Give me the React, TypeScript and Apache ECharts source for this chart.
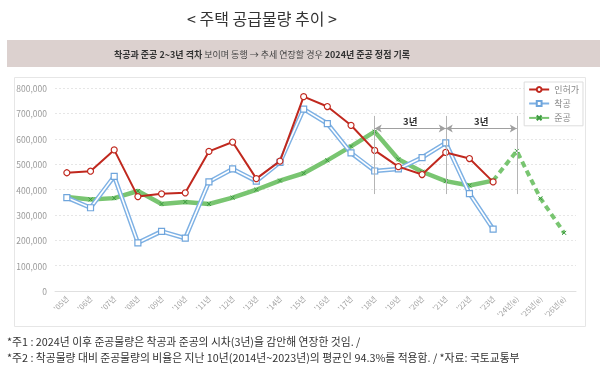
import React, { useEffect, useRef } from "react";
import * as echarts from "echarts";

const categories = [
  "'05년", "'06년", "'07년", "'08년", "'09년", "'10년", "'11년", "'12년", "'13년", "'14년",
  "'15년", "'16년", "'17년", "'18년", "'19년", "'20년", "'21년", "'22년", "'23년",
  "'24년(e)", "'25년(e)", "'26년(e)",
];
const permits = [
  466000, 472000, 556000, 372000, 383000, 387000, 550000, 587000, 443000, 512000,
  766000, 727000, 653000, 554000, 490000, 459000, 546000, 522000, 430000, null, null, null,
];
const starts = [
  368000, 328000, 452000, 190000, 235000, 208000, 430000, 481000, 433000, 507000,
  717000, 660000, 544000, 473000, 481000, 526000, 584000, 384000, 244000, null, null, null,
];
const completions = [
  370000, 361000, 366000, 394000, 343000, 351000, 343000, 368000, 399000, 435000,
  464000, 515000, 570000, 628000, 519000, 470000, 433000, 416000, 435000, null, null, null,
];
const forecast = [
  null, null, null, null, null, null, null, null, null, null,
  null, null, null, null, null, null, null, null, 435000, 552000, 365000, 229000,
];
const seriesNames = ["인허가", "착공", "준공"];
const gapLabel = "3년";

const KR = "'Noto Sans CJK KR', 'Noto Sans', sans-serif";
const X_MARK = "path://M0,0L10,10M10,0L0,10";

export default function App() {
  const ref = useRef<HTMLDivElement>(null);
  useEffect(() => {
    if (!ref.current) return;
    const chart = echarts.init(ref.current, undefined, { renderer: "svg" });
    const green = "rgba(88,182,78,0.8)";
    chart.setOption({
      animation: false,
      textStyle: { fontFamily: KR },
      graphic: [
        { type: "rect", z: -20, shape: { x: 7, y: 40, width: 593, height: 27 }, style: { fill: "#dcd1cf" } },
        { type: "rect", z: -20, shape: { x: 14.5, y: 77.5, width: 571, height: 249 }, style: { fill: "#fff", stroke: "#e6e6e6", lineWidth: 1 } },
        {
          type: "text", x: 262, y: 18,
          style: { text: "< 주택 공급물량 추이 >", fontSize: 16, fontFamily: KR, fill: "#333", align: "center", verticalAlign: "middle" },
        },
        {
          type: "text", x: 262, y: 54,
          style: {
            text: "{b|착공과 준공 2~3년 격차} 보이며 동행 → 추세 연장할 경우 {b|2024년 준공 정점 기록}",
            fontSize: 9, fontFamily: KR, fill: "#444", align: "center", verticalAlign: "middle",
            rich: { b: { fontWeight: "bold", fontSize: 9, fontFamily: KR, fill: "#333" } },
          },
        },
        {
          type: "text", x: 7, y: 341,
          style: { text: "*주1 : 2024년 이후 준공물량은 착공과 준공의 시차(3년)을 감안해 연장한 것임. /", fontSize: 10.8, fontFamily: KR, fill: "#333", verticalAlign: "middle" },
        },
        {
          type: "text", x: 7, y: 357,
          style: { text: "*주2 : 착공물량 대비 준공물량의 비율은 지난 10년(2014년~2023년)의 평균인 94.3%를 적용함. / *자료: 국토교통부", fontSize: 10.8, fontFamily: KR, fill: "#333", verticalAlign: "middle" },
        },
      ],
      legend: {
        data: seriesNames,
        orient: "vertical",
        right: 17,
        top: 82,
        backgroundColor: "#fff",
        borderColor: "#ddd",
        borderWidth: 1,
        padding: [3, 4, 3, 4],
        itemGap: 5,
        itemWidth: 20,
        itemHeight: 6,
        textStyle: { fontSize: 9, color: "#888", fontFamily: KR },
      },
      grid: { left: 55, right: 24, top: 88, bottom: 82 },
      xAxis: {
        type: "category",
        data: categories,
        boundaryGap: true,
        axisLine: { lineStyle: { color: "#e0e0e0" } },
        axisTick: { show: false },
        axisLabel: { rotate: 45, fontSize: 7.5, color: "#a0a0a0", margin: 6, interval: 0 },
      },
      yAxis: {
        type: "value",
        min: 0,
        max: 800000,
        interval: 100000,
        axisLine: { show: false },
        axisTick: { show: false },
        splitLine: { lineStyle: { color: "#e6e6e6", type: [2, 2] } },
        axisLabel: {
          fontSize: 8.5, color: "#9a9a9a", margin: 8,
          formatter: (v: number) => v.toLocaleString("en-US"),
        },
      },
      series: [
        {
          name: "준공",
          type: "line",
          data: completions,
          z: 2,
          lineStyle: { color: green, width: 4.5 },
          itemStyle: { color: "none", borderColor: "#3c9a40", borderWidth: 1 },
          symbol: X_MARK,
          symbolSize: 4,
          showSymbol: true,
        },
        {
          name: "준공e",
          type: "line",
          data: forecast,
          z: 2,
          lineStyle: { color: green, width: 4, type: [6, 4] },
          itemStyle: { color: "none", borderColor: "#3c9a40", borderWidth: 1 },
          symbol: X_MARK,
          symbolSize: 4,
          markLine: {
            silent: true,
            symbol: "none",
            label: { show: false },
            lineStyle: { color: "#b5b5b5", width: 1, type: "solid" },
            data: [
              [{ coord: ["'18년", 690000] }, { coord: ["'18년", 382000] }],
              [{ coord: ["'21년", 690000] }, { coord: ["'21년", 382000] }],
              [{ coord: ["'24년(e)", 690000] }, { coord: ["'24년(e)", 382000] }],
            ],
          },
        },
        {
          name: "착공",
          type: "line",
          data: starts,
          z: 3,
          lineStyle: { color: "#7eb1e4", width: 4.5 },
          itemStyle: { color: "#fff", borderColor: "#6fa5dc", borderWidth: 1.2 },
          symbol: "rect",
          symbolSize: 6,
        },
        {
          name: "착공inner",
          type: "line",
          data: starts,
          z: 3,
          silent: true,
          lineStyle: { color: "#fff", width: 1.6 },
          symbol: "none",
        },
        {
          name: "인허가",
          type: "line",
          data: permits,
          z: 4,
          lineStyle: { color: "#c0281e", width: 2 },
          itemStyle: { color: "#fff", borderColor: "#c0281e", borderWidth: 1.2 },
          symbol: "circle",
          symbolSize: 6,
        },
        {
          name: "arrows",
          type: "line",
          data: [],
          markLine: {
            silent: true,
            symbol: ["arrow", "arrow"],
            symbolSize: [6, 7],
            lineStyle: { color: "#a0a0a0", width: 1, type: "solid" },
            label: {
              show: true,
              position: "middle",
              formatter: gapLabel,
              fontSize: 9.5,
              fontWeight: "bold",
              color: "#333",
              fontFamily: KR,
              distance: 3,
            },
            data: [
              [{ coord: ["'18년", 640000] }, { coord: ["'21년", 640000] }],
              [{ coord: ["'21년", 640000] }, { coord: ["'24년(e)", 640000] }],
            ],
          },
        },
      ],
    });
    return () => chart.dispose();
  }, []);
  return <div ref={ref} style={{ position: "fixed", left: 0, top: 0, width: 600, height: 373 }} />;
}
